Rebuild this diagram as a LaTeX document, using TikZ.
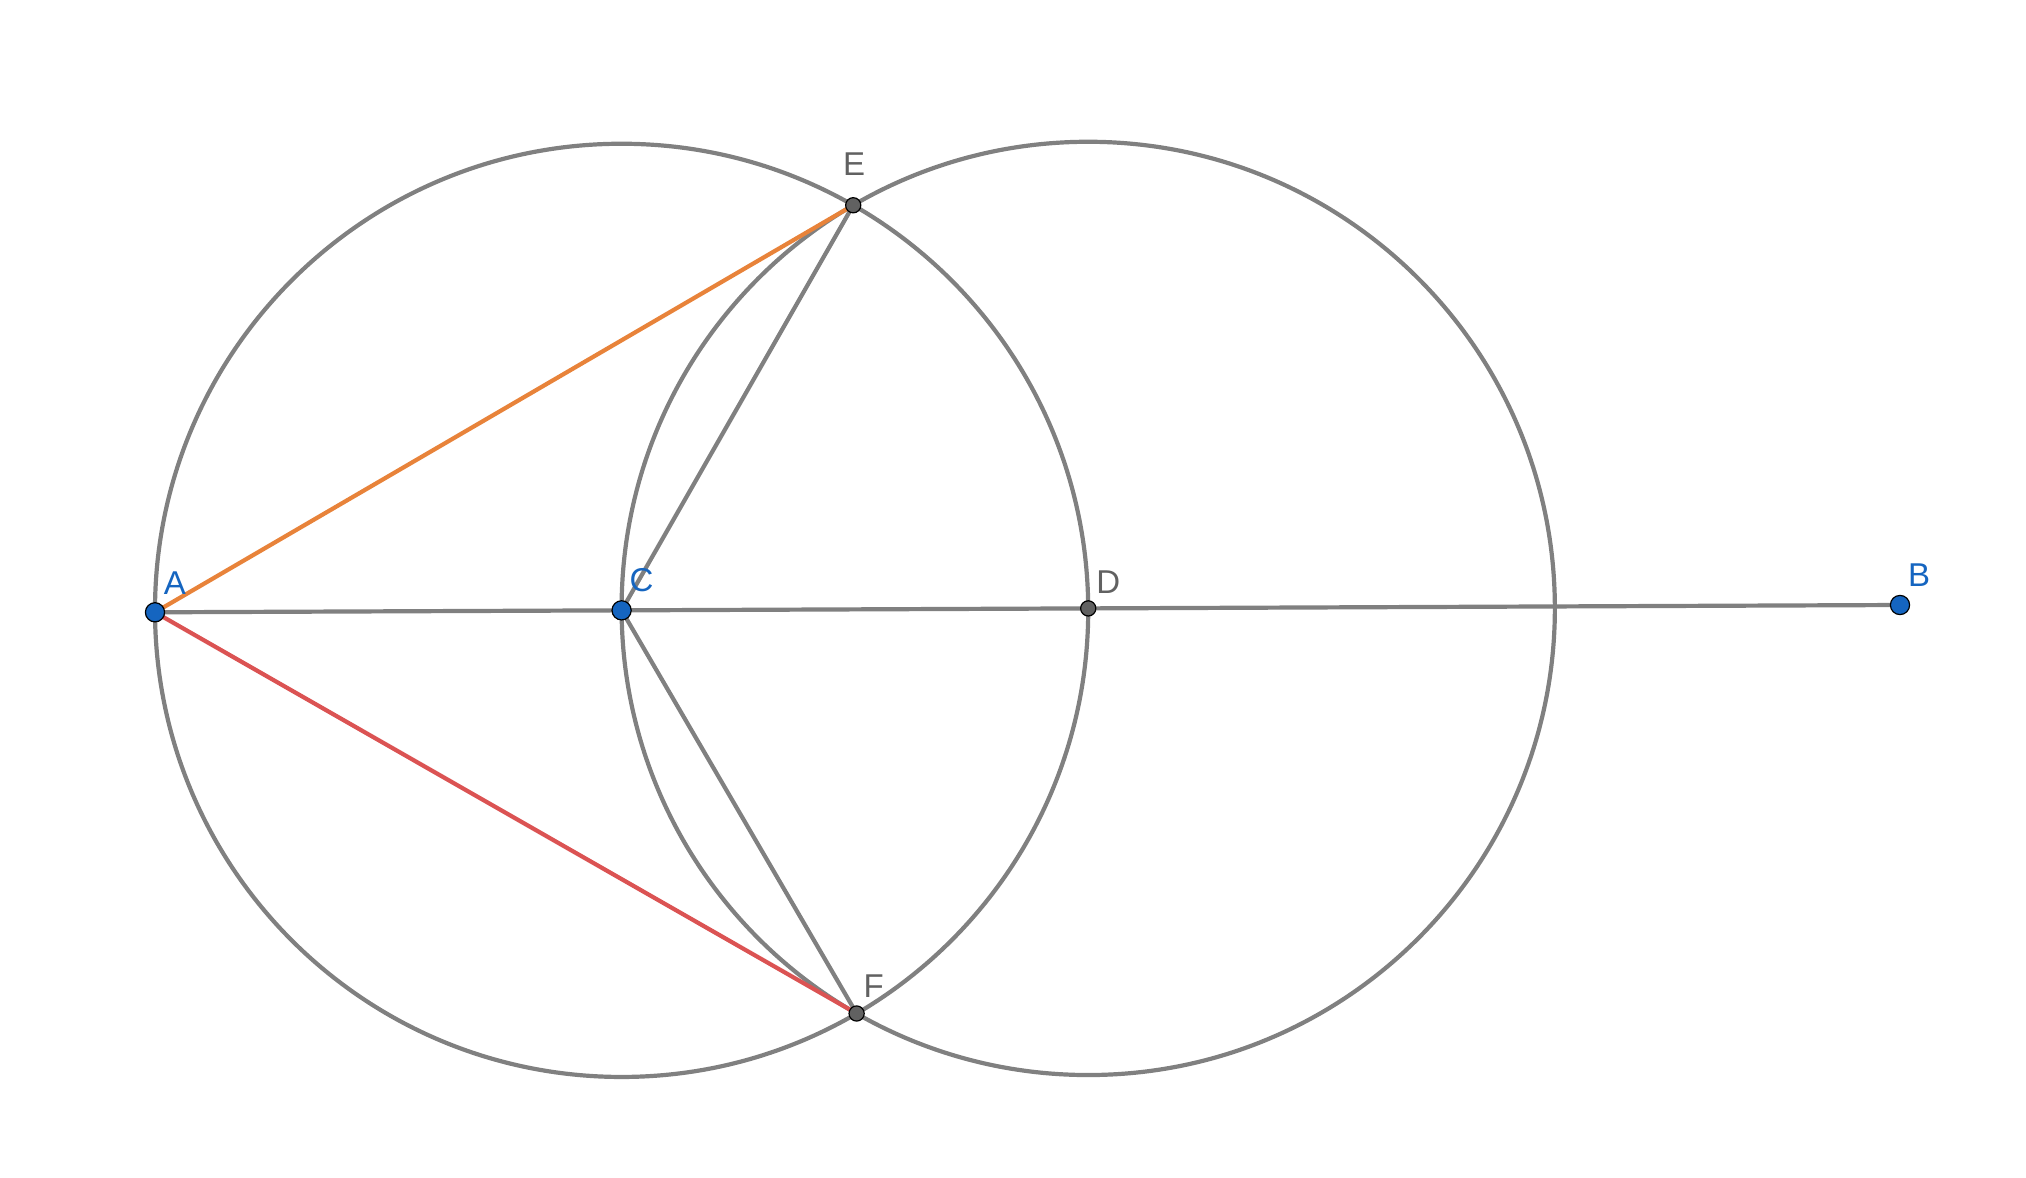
\documentclass[tikz,border=0pt]{standalone}
\usepackage{fontspec}
\setmainfont{Liberation Sans}
\usetikzlibrary{calc}
\definecolor{ggblue}{HTML}{1565C0}
\definecolor{gggray}{HTML}{616161}
\definecolor{ggline}{HTML}{808080}
\definecolor{ggorange}{HTML}{E8833A}
\definecolor{ggred}{HTML}{DB5353}
\begin{document}
\begin{tikzpicture}[x=0.5pt,y=-0.5pt,
	geo/.style={line width=2.1pt, color=ggline},
	bluept/.style={fill=ggblue, draw=black, line width=0.6pt},
	graypt/.style={fill=gggray, draw=black, line width=0.6pt},
	lbl/.style={font=\fontsize{16.5}{16.5}\selectfont, inner sep=0pt}]
	%%%%% START %%%%%
	\useasboundingbox (0, 0) rectangle (2026, 1178);
	
	\coordinate (A) at (155, 612.3);
	\coordinate (B) at (1900, 605);
	\coordinate (C) at ($(A)!0.2674!(B)$);
	\coordinate (D) at ($(A)!0.5348!(B)$);
	\coordinate (E) at ($(C)!1!60:(D)$);
	\coordinate (F) at ($(C)!1!-60:(D)$);
	
	\draw[geo] let \p1=($(A)-(C)$), \n1={veclen(\x1,\y1)} in (C) circle (\n1);
	\draw[geo] let \p1=($(C)-(D)$), \n1={veclen(\x1,\y1)} in (D) circle (\n1);
	
	\draw[geo] (A) -- (B);
	\draw[geo] (C) -- (E);
	\draw[geo] (C) -- (F);
	\draw[line width=2.1pt, color=ggorange] (A) -- (E);
	\draw[line width=2.1pt, color=ggred] (A) -- (F);
	
	\fill[bluept] (A) circle (4.8pt);
	\fill[bluept] (B) circle (4.8pt);
	\fill[bluept] (C) circle (4.8pt);
	\fill[graypt] (D) circle (3.8pt);
	\fill[graypt] (E) circle (3.8pt);
	\fill[graypt] (F) circle (3.8pt);
	
	\node[lbl, color=ggblue] (lA) at ($(A)+(20,-29)$) {A};
	\node[lbl, color=ggblue] (lB) at ($(B)+(19,-30)$) {B};
	\node[lbl, color=ggblue] (lC) at ($(C)+(20,-30)$) {C};
	\node[lbl, color=gggray] (lD) at ($(D)+(20,-26)$) {D};
	\node[lbl, color=gggray] (lE) at ($(E)+(1,-41)$) {E};
	\node[lbl, color=gggray] (lF) at ($(F)+(17,-27)$) {F};
	%%%%% END %%%%%
\end{tikzpicture}
\end{document}
